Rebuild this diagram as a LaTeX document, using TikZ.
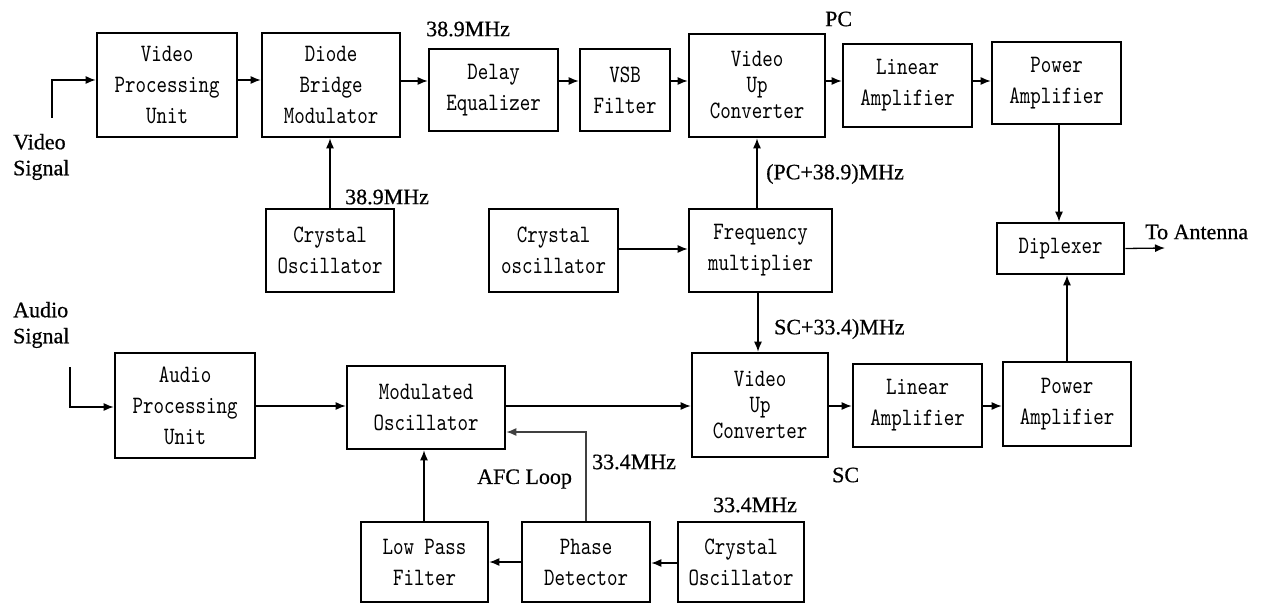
\documentclass[tikz,border=0pt]{standalone}
\usepackage{fontspec}
\setmainfont{Liberation Serif}
\newfontfamily\lblfont{Liberation Serif}[FakeBold=0.6]
\newfontfamily\boxfont{lmmono10-regular.otf}[FakeStretch=0.8]
\usetikzlibrary{arrows.meta}
\begin{document}
\begin{tikzpicture}[x=1pt,y=-1pt,
  blk/.style={draw, line width=2.6pt, align=center, inner sep=0pt,
    font=\boxfont\fontsize{25}{31}\selectfont},
  blkv/.style={blk, font=\boxfont\fontsize{25}{26}\selectfont},
  lbl/.style={anchor=west, inner sep=0pt, align=left, font=\lblfont\fontsize{22}{26}\selectfont},
  arr/.style={line width=1.3pt, -{Latex[length=10pt,width=8pt]}},
  ln/.style={line width=1.3pt}]
\useasboundingbox (0,0) rectangle (1267,604);

% top chain
\node[blk, minimum width=140pt, minimum height=104pt] (vpu) at (167,85) {Video\\Processing\\Unit};
\node[blk, minimum width=138pt, minimum height=104pt] (dbm) at (331,85) {Diode\\Bridge\\Modulator};
\node[blk, minimum width=128pt, minimum height=83pt] (co1) at (330,250.5) {Crystal\\Oscillator};
\node[blk, minimum width=129pt, minimum height=82pt] (de) at (493.5,90) {Delay\\Equalizer};
\node[blk, minimum width=90pt, minimum height=82pt] (vsb) at (625,90) {VSB\\Filter};
\node[blkv, minimum width=136pt, minimum height=103pt] (vuc1) at (757,85.5) {Video\\Up\\Converter};
\node[blk, minimum width=129pt, minimum height=83pt] (co2) at (553.5,250.5) {Crystal\\oscillator};
\node[blk, minimum width=143pt, minimum height=83pt] (fm) at (760.5,250.5) {Frequency\\multiplier};
\node[blk, minimum width=129pt, minimum height=83pt] (la1) at (907.5,85.5) {Linear\\Amplifier};
\node[blk, minimum width=129pt, minimum height=82pt] (pa1) at (1056.5,83) {Power\\Amplifier};
\node[blk, minimum width=127pt, minimum height=51pt] (dip) at (1060.5,248.5) {Diplexer};

% bottom chain
\node[blk, minimum width=140pt, minimum height=105pt] (apu) at (185,405.5) {Audio\\Processing\\Unit};
\node[blk, minimum width=158pt, minimum height=83pt] (mo) at (426,407.5) {Modulated\\Oscillator};
\node[blkv, minimum width=136pt, minimum height=104pt] (vuc2) at (760,405) {Video\\Up\\Converter};
\node[blk, minimum width=129pt, minimum height=83pt] (la2) at (917.5,405.5) {Linear\\Amplifier};
\node[blk, minimum width=128pt, minimum height=84pt] (pa2) at (1067,404) {Power\\Amplifier};
\node[blk, minimum width=127pt, minimum height=80pt] (lpf) at (424.5,562) {Low Pass\\Filter};
\node[blk, minimum width=128pt, minimum height=80pt] (pd) at (586,562) {Phase\\Detector};
\node[blk, minimum width=126pt, minimum height=80pt] (co3) at (741,562) {Crystal\\Oscillator};

% free ends
\coordinate (vin) at (52,118);
\coordinate (ain) at (70,367);
\coordinate (ant) at (1165,248);

% top connectors
\draw[arr] (vin) |- (vpu.west |- 0,80);
\draw[arr] (vpu.east |- 0,80) -- (dbm.west |- 0,80);
\draw[arr] (dbm.east |- 0,81) -- (de.west |- 0,81);
\draw[arr] (de.east |- 0,81) -- (vsb.west |- 0,81);
\draw[arr] (vsb.east |- 0,81) -- (vuc1.west |- 0,81);
\draw[arr] (vuc1.east |- 0,81) -- (la1.west |- 0,81);
\draw[arr] (la1.east |- 0,81) -- (pa1.west |- 0,81);
\draw[arr] (co1.north) -- (co1.north |- dbm.south);
\draw[arr] (co2.east |- 0,249) -- (fm.west |- 0,249);
\draw[arr] (fm.north -| vuc1.south) -- (vuc1.south);
\draw[arr] (pa1.south -| 1059,0) -- (dip.north -| 1059,0);
\draw[arr] (dip.east) -- (ant);

% bottom connectors
\draw[arr] (ain) |- (apu.west |- 0,407);
\draw[arr] (apu.east |- 0,406) -- (mo.west |- 0,406);
\draw[arr] (mo.east |- 0,406) -- (vuc2.west |- 0,406);
\draw[arr] (vuc2.east |- 0,406) -- (la2.west |- 0,406);
\draw[arr] (la2.east |- 0,406) -- (pa2.west |- 0,406);
\draw[arr] (pa2.north) -- (pa2.north |- dip.south);
\draw[arr] (fm.south -| 758,0) -- (vuc2.north -| 758,0);
\draw[arr, draw=black!75] (pd.north) |- (mo.east |- 0,432);
\draw[arr] (lpf.north -| 424,0) -- (mo.south -| 424,0);
\draw[arr] (pd.west) -- (lpf.east);
\draw[arr] (co3.west |- 0,563) -- (pd.east |- 0,563);

% labels
\node[lbl] (lvs) at (13,157) {Video\\Signal};
\node[lbl] (las) at (13,325) {Audio\\Signal};
\node[lbl] (l389a) at (345,197) {38.9MHz};
\node[lbl] (l389b) at (426,29) {38.9MHz};
\node[lbl] (lpc) at (825,19) {PC};
\node[lbl] (lpcf) at (766,174) {(PC+38.9)MHz};
\node[lbl] (lant) at (1145,232) {To Antenna};
\node[lbl] (lscf) at (774,329) {SC+33.4)MHz};
\node[lbl] (l334a) at (592,462) {33.4MHz};
\node[lbl] (lafc) at (477,479) {AFC Loop};
\node[lbl] (l334b) at (713,505) {33.4MHz};
\node[lbl] (lsc) at (832,475) {SC};
\end{tikzpicture}
\end{document}
